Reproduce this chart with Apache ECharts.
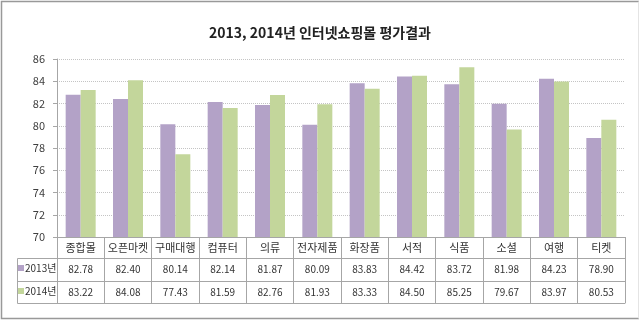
<!DOCTYPE html>
<html>
<head>
<meta charset="utf-8">
<script src="https://cdn.jsdelivr.net/npm/echarts@6/dist/echarts.min.js"></script>
<style>
html,body{margin:0;padding:0;background:#fff;}
#c{width:640px;height:321px;}
</style>
</head>
<body>
<div id="c"></div>
<script>
var titleText = '2013, 2014년 인터넷쇼핑몰 평가결과';
var categories = ['종합몰','오픈마켓','구매대행','컴퓨터','의류','전자제품','화장품','서적','식품','소셜','여행','티켓'];
var seriesNames = ['2013년','2014년'];
var values2013 = [82.78,82.40,80.14,82.14,81.87,80.09,83.83,84.42,83.72,81.98,84.23,78.90];
var values2014 = [83.22,84.08,77.43,81.59,82.76,81.93,83.33,84.50,85.25,79.67,83.97,80.53];
var yMin = 70, yMax = 86, yStep = 2;

var FONT = '"Noto Sans CJK KR", "Noto Sans", sans-serif';
var LINE = '#a6a6a6';
var colors = ['#B3A2C7','#C3D69B'];

function fmt(arr){ return function(v, i){ return arr[i].toFixed(2); }; }

var chart = echarts.init(document.getElementById('c'), null, {renderer:'canvas'});
chart.setOption({
  animation:false,
  textStyle:{fontFamily:FONT},
  title:{text:titleText,left:'center',top:21,textStyle:{fontFamily:FONT,fontSize:14,fontWeight:'bold',color:'#222'}},
  legend:[
    {data:[seriesNames[0]],left:18,top:263,orient:'vertical',itemWidth:6,itemHeight:6,itemGap:0,padding:0,icon:'rect',
     textStyle:{fontFamily:FONT,fontSize:10,color:'#333',padding:[0,0,0,-4]}},
    {data:[seriesNames[1]],left:18,top:286,orient:'vertical',itemWidth:6,itemHeight:6,itemGap:0,padding:0,icon:'rect',
     textStyle:{fontFamily:FONT,fontSize:10,color:'#333',padding:[0,0,0,-4]}}
  ],
  grid:{left:57,right:15,top:59,bottom:84,containLabel:false},
  xAxis:[
    {type:'category',data:categories,position:'bottom',
     axisLine:{show:true,lineStyle:{color:LINE}},
     axisTick:{show:true,alignWithLabel:false,length:66,interval:0,lineStyle:{color:LINE}},
     axisLabel:{interval:0,margin:5,fontSize:11,color:'#333',fontFamily:FONT}},
    {type:'category',data:categories,position:'bottom',offset:21,
     axisLine:{show:true,lineStyle:{color:LINE}},axisTick:{show:false},
     axisLabel:{interval:0,margin:6,fontSize:10,color:'#333',fontFamily:FONT,formatter:fmt(values2013)}},
    {type:'category',data:categories,position:'bottom',offset:44,
     axisLine:{show:true,lineStyle:{color:LINE}},axisTick:{show:false},
     axisLabel:{interval:0,margin:6,fontSize:10,color:'#333',fontFamily:FONT,formatter:fmt(values2014)}},
    {type:'category',data:categories,position:'bottom',offset:66,
     axisLine:{show:true,lineStyle:{color:LINE}},axisTick:{show:false},axisLabel:{show:false}}
  ],
  yAxis:{type:'value',min:yMin,max:yMax,interval:yStep,
    axisLine:{show:true,lineStyle:{color:LINE}},
    axisTick:{show:true,length:4,lineStyle:{color:LINE}},
    axisLabel:{margin:12,fontSize:11,color:'#404040',fontFamily:FONT},
    splitLine:{show:true,lineStyle:{color:'#c4c4c4',type:[1,1],width:1}}},
  series:[
    {name:seriesNames[0],type:'bar',data:values2013,barWidth:15,barGap:'0%',itemStyle:{color:colors[0]}},
    {name:seriesNames[1],type:'bar',data:values2014,barWidth:15,barGap:'0%',itemStyle:{color:colors[1]}}
  ],
  graphic:[
    {type:'polyline',shape:{points:[[639,1.5],[1.5,1.5],[1.5,318.5],[639,318.5]]},style:{stroke:'#999',fill:null,lineWidth:1.5},silent:true},
    {type:'line',shape:{x1:638.5,y1:1.5,x2:638.5,y2:318.5},style:{stroke:'#e4e4e4',lineWidth:1},silent:true},
    {type:'polyline',shape:{points:[[57,258.5],[17.5,258.5],[17.5,303.5],[57,303.5]]},style:{stroke:LINE,fill:null,lineWidth:1},silent:true},
    {type:'line',shape:{x1:17.5,y1:281.5,x2:57,y2:281.5},style:{stroke:LINE,lineWidth:1},silent:true}
  ]
});
</script>
</body>
</html>
